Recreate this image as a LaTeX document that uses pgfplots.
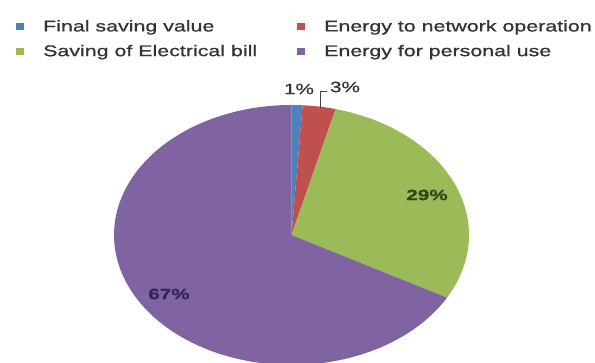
\documentclass[border=0pt]{standalone}
\usepackage{fontspec}
\setmainfont{Liberation Sans}[FakeStretch=1.38, FakeBold=0.8]
\usepackage{pgfplots}
\pgfplotsset{compat=1.18}
\definecolor{cblue}{HTML}{4F81BD}
\definecolor{cred}{HTML}{C0504D}
\definecolor{cgreen}{HTML}{9BBB59}
\definecolor{cpurple}{HTML}{8064A2}
\definecolor{lgreen}{HTML}{2E4A12}
\definecolor{lpurple}{HTML}{33245A}
\begin{document}
\begin{tikzpicture}
\begin{axis}[name=ax, width=595pt, height=363pt, scale only axis,
  xmin=0, xmax=595, ymin=0, ymax=363, y dir=reverse, hide axis, clip=false,
  legend columns=2,
  legend cell align=left,
  legend style={at={(axis cs:16,18)}, anchor=north west, draw=none, fill=none,
    inner sep=0pt, font=\fontsize{15.5}{17}\selectfont, text=black!80,
    row sep=8pt,
    /tikz/every even column/.append style={column sep=38pt}},
  legend image code/.code={\fill[#1] (0pt,-3.5pt) rectangle (8pt,3.5pt); \fill[opacity=0] (8pt,0pt) rectangle (25pt,0.1pt);},
]
% pie slices: cumulative percentages 0-1 (1%), 1-4 (3%), 4-33 (29%), 33-100 (67%)
\addplot[fill=cblue, draw=none, domain=0:1, samples=10, variable=\t]
  ({291.5+177.5*cos(90-3.6*\t)}, {235-130*sin(90-3.6*\t)}) -- (axis cs:291.5,235) -- cycle;
\addlegendentry{Final saving value}
\addplot[fill=cred, draw=none, domain=1:4, samples=15, variable=\t]
  ({291.5+177.5*cos(90-3.6*\t)}, {235-130*sin(90-3.6*\t)}) -- (axis cs:291.5,235) -- cycle;
\addlegendentry{Energy to network operation}
\addplot[fill=cgreen, draw=none, domain=4:33, samples=80, variable=\t]
  ({291.5+177.5*cos(90-3.6*\t)}, {235-130*sin(90-3.6*\t)}) -- (axis cs:291.5,235) -- cycle;
\addlegendentry{Saving of Electrical bill}
\addplot[fill=cpurple, draw=none, domain=33:100, samples=160, variable=\t]
  ({291.5+177.5*cos(90-3.6*\t)}, {235-130*sin(90-3.6*\t)}) -- (axis cs:291.5,235) -- cycle;
\addlegendentry{Energy for personal use}
\addplot[black!75, line width=0.8pt, forget plot] coordinates {(320,108) (320,91) (327,91)};
\node[font=\fontsize{15}{17}\selectfont, text=black!80] at (axis cs:299,89) {1\%};
\node[font=\fontsize{15}{17}\selectfont, text=black!80] at (axis cs:345,87) {3\%};
\node[font=\fontsize{15}{17}\selectfont\bfseries, text=lgreen] at (axis cs:427,195) {29\%};
\node[font=\fontsize{15}{17}\selectfont\bfseries, text=lpurple] at (axis cs:169,294) {67\%};
\end{axis}
\pgfresetboundingbox
\path (ax.south west) rectangle (ax.north east);
\end{tikzpicture}
\end{document}
